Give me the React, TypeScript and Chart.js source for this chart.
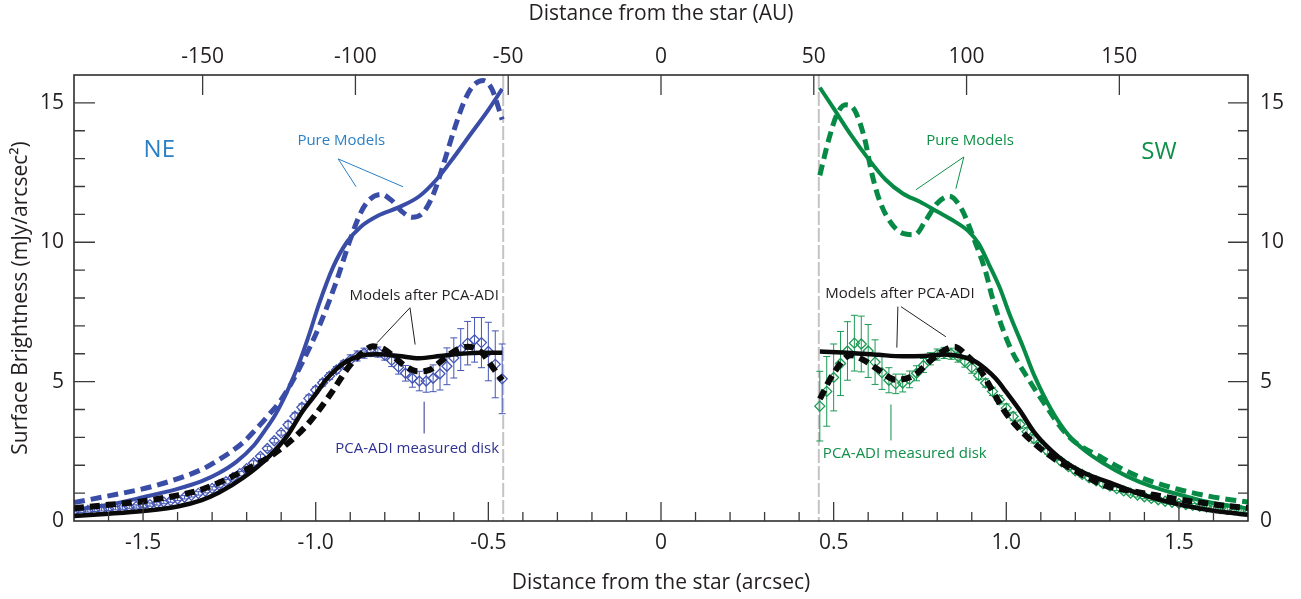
import React, { useEffect, useRef } from "react";
import { Chart, registerables } from "chart.js";

Chart.register(...registerables);

// ---------- axes ----------
const AU_PER_ARCSEC = 113;
const X_MIN = -1.7;
const X_MAX = 1.7;
const Y_MIN = 0;
const Y_MAX = 16;
const ARCSEC_TICKS = [-1.5, -1.0, -0.5, 0, 0.5, 1.0, 1.5];
const ARCSEC_LABELS = ["-1.5", "-1.0", "-0.5", "0", "0.5", "1.0", "1.5"];
const AU_TICKS = [-150, -100, -50, 0, 50, 100, 150];
const AU_LABELS = ["-150", "-100", "-50", "0", "50", "100", "150"];
const SB_TICKS = [0, 5, 10, 15];
const SB_LABELS = ["0", "5", "10", "15"];
const MASK_EDGES = [-0.457, 0.457];

// ---------- NE side ----------
const NE_PURE_SOLID_X = [-1.70, -1.60, -1.50, -1.40, -1.33, -1.28, -1.23, -1.18, -1.15, -1.12, -1.10, -1.08, -1.05, -1.02, -0.99, -0.95, -0.91, -0.87, -0.82, -0.76, -0.70, -0.65, -0.60, -0.55, -0.50, -0.46];
const NE_PURE_SOLID_Y = [0.40, 0.58, 0.85, 1.15, 1.43, 1.72, 2.12, 2.70, 3.20, 3.75, 4.20, 4.72, 5.60, 6.65, 7.80, 9.10, 10.0, 10.55, 10.95, 11.25, 11.65, 12.25, 13.05, 13.9, 14.75, 15.5];
const NE_PURE_DASH_X = [-1.70, -1.60, -1.47, -1.33, -1.28, -1.21, -1.18, -1.14, -1.10, -1.07, -1.04, -0.99, -0.94, -0.90, -0.87, -0.845, -0.81, -0.78, -0.75, -0.72, -0.69, -0.66, -0.63, -0.60, -0.57, -0.545, -0.515, -0.49, -0.46];
const NE_PURE_DASH_Y = [0.66, 0.90, 1.25, 1.85, 2.2, 2.82, 3.2, 3.75, 4.35, 4.95, 5.65, 6.98, 8.6, 10.1, 11.05, 11.52, 11.72, 11.5, 11.1, 10.9, 11.05, 11.7, 12.8, 14.0, 15.05, 15.6, 15.8, 15.5, 14.4];
const NE_PCA_SOLID_X = [-1.70, -1.60, -1.50, -1.40, -1.33, -1.28, -1.21, -1.135, -1.08, -1.04, -1.00, -0.97, -0.94, -0.91, -0.87, -0.82, -0.76, -0.70, -0.64, -0.58, -0.52, -0.46];
const NE_PCA_SOLID_Y = [0.18, 0.26, 0.36, 0.52, 0.75, 1.02, 1.55, 2.32, 3.1, 3.9, 4.55, 5.07, 5.45, 5.73, 5.93, 5.98, 5.92, 5.84, 5.92, 6.0, 6.04, 6.04];
const NE_PCA_DASH_X = [-1.70, -1.60, -1.50, -1.40, -1.33, -1.22, -1.12, -1.03, -0.96, -0.90, -0.865, -0.835, -0.80, -0.77, -0.74, -0.705, -0.67, -0.64, -0.60, -0.56, -0.52, -0.49, -0.46];
const NE_PCA_DASH_Y = [0.46, 0.58, 0.71, 0.92, 1.13, 1.73, 2.42, 3.38, 4.5, 5.6, 6.03, 6.27, 6.15, 5.85, 5.55, 5.37, 5.42, 5.7, 6.08, 6.25, 6.05, 5.55, 5.05];
const NE_DATA_X = [-1.70, -1.68, -1.66, -1.64, -1.62, -1.60, -1.58, -1.56, -1.54, -1.52, -1.50, -1.48, -1.46, -1.44, -1.42, -1.40, -1.38, -1.36, -1.34, -1.32, -1.30, -1.28, -1.26, -1.24, -1.22, -1.20, -1.18, -1.16, -1.14, -1.12, -1.10, -1.08, -1.06, -1.04, -1.02, -1.00, -0.98, -0.96, -0.94, -0.92, -0.90, -0.88, -0.86, -0.84, -0.82, -0.80, -0.78, -0.76, -0.74, -0.72, -0.70, -0.68, -0.66, -0.64, -0.62, -0.60, -0.58, -0.56, -0.54, -0.52, -0.50, -0.48, -0.46];
const NE_DATA_Y = [0.34, 0.36, 0.38, 0.40, 0.42, 0.44, 0.46, 0.48, 0.50, 0.52, 0.55, 0.59, 0.63, 0.68, 0.73, 0.79, 0.85, 0.92, 0.99, 1.07, 1.17, 1.29, 1.41, 1.55, 1.70, 1.88, 2.08, 2.32, 2.60, 2.88, 3.16, 3.45, 3.76, 4.08, 4.40, 4.70, 4.96, 5.20, 5.42, 5.62, 5.78, 5.92, 6.02, 6.08, 6.06, 5.95, 5.76, 5.52, 5.30, 5.12, 5.02, 5.02, 5.12, 5.28, 5.55, 5.85, 6.15, 6.38, 6.50, 6.40, 6.08, 5.62, 5.10];
const NE_DATA_ERR = [0.06, 0.06, 0.06, 0.06, 0.06, 0.06, 0.06, 0.06, 0.06, 0.06, 0.06, 0.06, 0.06, 0.06, 0.06, 0.06, 0.06, 0.06, 0.06, 0.06, 0.06, 0.08, 0.08, 0.08, 0.08, 0.08, 0.08, 0.08, 0.08, 0.08, 0.08, 0.12, 0.12, 0.12, 0.12, 0.12, 0.12, 0.12, 0.12, 0.12, 0.18, 0.18, 0.18, 0.18, 0.18, 0.18, 0.22, 0.25, 0.28, 0.32, 0.35, 0.40, 0.48, 0.58, 0.66, 0.72, 0.75, 0.78, 0.80, 0.90, 1.05, 1.20, 1.25];

// ---------- SW side ----------
const SW_PURE_SOLID_X = [0.46, 0.50, 0.55, 0.60, 0.65, 0.70, 0.75, 0.80, 0.85, 0.89, 0.92, 0.95, 0.98, 1.01, 1.05, 1.08, 1.13, 1.18, 1.23, 1.28, 1.35, 1.42, 1.50, 1.57, 1.63, 1.70];
const SW_PURE_SOLID_Y = [15.55, 14.8, 13.85, 13.0, 12.25, 11.75, 11.45, 11.1, 10.75, 10.4, 9.95, 9.2, 8.4, 7.4, 6.2, 5.25, 4.0, 3.08, 2.5, 2.08, 1.6, 1.24, 0.95, 0.72, 0.58, 0.45];
const SW_PURE_DASH_X = [0.46, 0.485, 0.51, 0.535, 0.56, 0.59, 0.61, 0.63, 0.66, 0.70, 0.735, 0.765, 0.80, 0.835, 0.87, 0.91, 0.94, 0.96, 1.01, 1.065, 1.10, 1.18, 1.28, 1.35, 1.42, 1.50, 1.57, 1.63, 1.70];
const SW_PURE_DASH_Y = [12.4, 13.65, 14.6, 14.93, 14.75, 13.7, 12.5, 11.6, 10.8, 10.32, 10.27, 10.75, 11.4, 11.65, 11.2, 10.0, 8.95, 8.0, 6.26, 5.07, 4.4, 3.04, 2.25, 1.78, 1.42, 1.13, 0.93, 0.8, 0.68];
const SW_PCA_SOLID_X = [0.46, 0.55, 0.63, 0.70, 0.76, 0.82, 0.87, 0.91, 0.94, 0.97, 1.00, 1.04, 1.08, 1.12, 1.17, 1.23, 1.30, 1.38, 1.47, 1.56, 1.63, 1.70];
const SW_PCA_SOLID_Y = [6.08, 6.03, 5.96, 5.91, 5.92, 5.97, 5.9, 5.72, 5.45, 5.1, 4.62, 3.95, 3.2, 2.65, 2.12, 1.7, 1.38, 1.0, 0.68, 0.45, 0.32, 0.22];
const SW_PCA_DASH_X = [0.46, 0.50, 0.55, 0.59, 0.63, 0.68, 0.73, 0.78, 0.82, 0.85, 0.88, 0.92, 0.97, 1.00, 1.05, 1.12, 1.20, 1.28, 1.36, 1.43, 1.50, 1.57, 1.63, 1.70];
const SW_PCA_DASH_Y = [4.38, 5.3, 5.95, 5.75, 5.42, 5.07, 5.2, 5.75, 6.12, 6.25, 6.0, 5.5, 4.45, 3.85, 3.15, 2.4, 1.8, 1.3, 1.08, 0.93, 0.77, 0.65, 0.55, 0.47];
const SW_DATA_X = [0.46, 0.48, 0.50, 0.52, 0.54, 0.56, 0.58, 0.60, 0.62, 0.64, 0.66, 0.68, 0.70, 0.72, 0.74, 0.76, 0.78, 0.80, 0.82, 0.84, 0.86, 0.88, 0.90, 0.92, 0.94, 0.96, 0.98, 1.00, 1.02, 1.04, 1.06, 1.08, 1.10, 1.12, 1.14, 1.16, 1.18, 1.20, 1.22, 1.24, 1.26, 1.28, 1.30, 1.32, 1.34, 1.36, 1.38, 1.40, 1.42, 1.44, 1.46, 1.48, 1.50, 1.52, 1.54, 1.56, 1.58, 1.60, 1.62, 1.64, 1.66, 1.68, 1.70];
const SW_DATA_Y = [4.12, 4.65, 5.15, 5.65, 6.1, 6.38, 6.35, 6.1, 5.7, 5.32, 5.05, 4.92, 4.95, 5.08, 5.3, 5.58, 5.82, 5.97, 6.03, 6.0, 5.9, 5.72, 5.5, 5.22, 4.95, 4.65, 4.35, 4.05, 3.75, 3.47, 3.2, 2.95, 2.72, 2.5, 2.3, 2.12, 1.95, 1.8, 1.67, 1.55, 1.44, 1.34, 1.25, 1.16, 1.08, 1.0, 0.93, 0.87, 0.81, 0.76, 0.71, 0.67, 0.63, 0.59, 0.56, 0.53, 0.50, 0.47, 0.45, 0.42, 0.40, 0.38, 0.36];
const SW_DATA_ERR = [1.25, 1.25, 1.2, 1.15, 1.05, 1.0, 1.0, 0.95, 0.8, 0.6, 0.45, 0.35, 0.32, 0.3, 0.27, 0.25, 0.22, 0.2, 0.2, 0.2, 0.2, 0.2, 0.2, 0.15, 0.15, 0.15, 0.15, 0.15, 0.15, 0.15, 0.15, 0.15, 0.15, 0.1, 0.1, 0.1, 0.1, 0.1, 0.1, 0.1, 0.1, 0.1, 0.1, 0.07, 0.07, 0.07, 0.07, 0.07, 0.07, 0.07, 0.07, 0.07, 0.07, 0.07, 0.07, 0.07, 0.07, 0.07, 0.07, 0.07, 0.07, 0.07, 0.07];

// ---------- styles ----------
const FONT = "'Open Sans', 'DejaVu Sans', sans-serif";
const INK = "#231f20";
const BLUE = "#3a4da6";
const BLUE_DATA = "#4456b4";
const BLUE_TEXT = "#2a7fc5";
const NAVY_TEXT = "#2e3192";
const GREEN = "#078a45";
const GREEN_DATA = "#1c9a54";
const GREEN_TEXT = "#0f8f48";
const BLACK = "#0a0a0a";

// annotations anchored in data coordinates
const NOTES = [
  { text: "NE", x: -1.453, y: 13.31, size: 24, color: BLUE_TEXT },
  { text: "Pure Models", x: -0.926, y: 13.64, size: 15, color: BLUE_TEXT },
  { text: "Models after PCA-ADI", x: -0.686, y: 8.08, size: 15, color: INK },
  { text: "PCA-ADI measured disk", x: -0.706, y: 2.6, size: 15, color: NAVY_TEXT },
  { text: "SW", x: 1.442, y: 13.24, size: 24, color: GREEN_TEXT },
  { text: "Pure Models", x: 0.895, y: 13.64, size: 15, color: GREEN_TEXT },
  { text: "Models after PCA-ADI", x: 0.692, y: 8.15, size: 15, color: INK },
  { text: "PCA-ADI measured disk", x: 0.706, y: 2.42, size: 15, color: GREEN_TEXT },
];
const LEADERS = [
  { x1: -0.935, y1: 12.99, x2: -0.883, y2: 11.99, color: BLUE_TEXT },
  { x1: -0.935, y1: 12.99, x2: -0.747, y2: 11.99, color: BLUE_TEXT },
  { x1: -0.727, y1: 7.65, x2: -0.822, y2: 6.4, color: INK },
  { x1: -0.727, y1: 7.65, x2: -0.712, y2: 6.33, color: INK },
  { x1: -0.686, y1: 4.28, x2: -0.686, y2: 3.14, color: NAVY_TEXT },
  { x1: 0.877, y1: 13.06, x2: 0.738, y2: 11.88, color: GREEN_TEXT },
  { x1: 0.877, y1: 13.06, x2: 0.854, y2: 11.92, color: GREEN_TEXT },
  { x1: 0.686, y1: 7.69, x2: 0.683, y2: 6.22, color: INK },
  { x1: 0.695, y1: 7.69, x2: 0.825, y2: 6.61, color: INK },
  { x1: 0.666, y1: 4.18, x2: 0.666, y2: 2.89, color: GREEN_TEXT },
];

const pts = (xs: number[], ys: number[]) => xs.map((x, i) => ({ x, y: ys[i] }));

const ERROR_SETS = [
  { xs: NE_DATA_X, ys: NE_DATA_Y, err: NE_DATA_ERR, color: BLUE_DATA },
  { xs: SW_DATA_X, ys: SW_DATA_Y, err: SW_DATA_ERR, color: GREEN_DATA },
];

const maskPlugin = {
  id: "maskLines",
  beforeDatasetsDraw(chart: any) {
    const { ctx, chartArea: a, scales } = chart;
    ctx.save();
    ctx.strokeStyle = "#c4c4c4";
    ctx.lineWidth = 2;
    ctx.setLineDash([14, 3]);
    MASK_EDGES.forEach((v) => {
      const px = scales.x.getPixelForValue(v);
      ctx.beginPath();
      ctx.moveTo(px, a.top);
      ctx.lineTo(px, a.bottom);
      ctx.stroke();
    });
    ctx.restore();
  },
};

const errorPlugin = {
  id: "errorBars",
  beforeDatasetsDraw(chart: any) {
    const { ctx, chartArea: a, scales } = chart;
    ctx.save();
    ctx.beginPath();
    ctx.rect(a.left, a.top, a.right - a.left, a.bottom - a.top);
    ctx.clip();
    ctx.lineWidth = 1;
    ERROR_SETS.forEach((s) => {
      ctx.strokeStyle = s.color;
      ctx.beginPath();
      s.xs.forEach((x, i) => {
        const px = scales.x.getPixelForValue(x);
        const top = scales.y.getPixelForValue(s.ys[i] + s.err[i]);
        const bot = scales.y.getPixelForValue(s.ys[i] - s.err[i]);
        ctx.moveTo(px, top);
        ctx.lineTo(px, bot);
        ctx.moveTo(px - 3.5, top);
        ctx.lineTo(px + 3.5, top);
        ctx.moveTo(px - 3.5, bot);
        ctx.lineTo(px + 3.5, bot);
      });
      ctx.stroke();
    });
    ctx.restore();
  },
};

const framePlugin = {
  id: "frame",
  afterDatasetsDraw(chart: any) {
    const { ctx, chartArea: a, scales } = chart;
    const xs = scales.x;
    const ys = scales.y;
    ctx.save();
    ctx.strokeStyle = INK;
    ctx.lineWidth = 1.5;
    ctx.strokeRect(a.left, a.top, a.right - a.left, a.bottom - a.top);
    ctx.strokeStyle = "#3a3a3a";
    ctx.lineWidth = 1.3;
    ctx.beginPath();
    for (let k = -16; k <= 16; k++) {
      const px = xs.getPixelForValue(k / 10);
      const len = k % 5 === 0 ? 19 : 9;
      ctx.moveTo(px, a.bottom);
      ctx.lineTo(px, a.bottom - len);
    }
    AU_TICKS.forEach((au) => {
      const px = xs.getPixelForValue(au / AU_PER_ARCSEC);
      ctx.moveTo(px, a.top);
      ctx.lineTo(px, a.top + 20);
    });
    for (let v = 1; v <= 15; v++) {
      const py = ys.getPixelForValue(v);
      const major = v % 5 === 0;
      ctx.moveTo(a.left, py);
      ctx.lineTo(a.left + (major ? 21 : 11), py);
      ctx.moveTo(a.right, py);
      ctx.lineTo(a.right - (major ? 20 : 10), py);
    }
    ctx.stroke();
    ctx.restore();
  },
};

const notesPlugin = {
  id: "notes",
  afterDatasetsDraw(chart: any) {
    const { ctx, scales } = chart;
    const X = (v: number) => scales.x.getPixelForValue(v);
    const Y = (v: number) => scales.y.getPixelForValue(v);
    ctx.save();
    ctx.lineWidth = 1;
    LEADERS.forEach((l) => {
      ctx.strokeStyle = l.color;
      ctx.beginPath();
      ctx.moveTo(X(l.x1), Y(l.y1));
      ctx.lineTo(X(l.x2), Y(l.y2));
      ctx.stroke();
    });
    ctx.textAlign = "center";
    ctx.textBaseline = "middle";
    NOTES.forEach((n) => {
      ctx.font = `${n.size}px ${FONT}`;
      ctx.fillStyle = n.color;
      ctx.fillText(n.text, X(n.x), Y(n.y));
    });
    ctx.restore();
  },
};

const lineDs = (label: string, xs: number[], ys: number[], color: string, width: number, dash: number[], order: number) => ({
  label,
  data: pts(xs, ys),
  borderColor: color,
  borderWidth: width,
  borderDash: dash,
  pointRadius: 0,
  fill: false,
  cubicInterpolationMode: "monotone" as const,
  order,
});

const dataDs = (label: string, xs: number[], ys: number[], color: string) => ({
  label,
  data: pts(xs, ys),
  showLine: false,
  pointStyle: "rectRot" as const,
  pointRadius: 5,
  pointBorderWidth: 1.3,
  pointBorderColor: color,
  pointBackgroundColor: "rgba(255,255,255,0)",
  borderColor: color,
  order: 3,
});

const tickFont = { family: FONT, size: 21 };
const titleFont = { family: FONT, size: 21 };

export default function App() {
  const ref = useRef<HTMLCanvasElement>(null);

  useEffect(() => {
    const canvas = ref.current;
    if (!canvas) return;
    const chart = new Chart(canvas, {
      type: "line",
      data: {
        datasets: [
          lineDs("NE model after PCA-ADI", NE_PCA_SOLID_X, NE_PCA_SOLID_Y, BLACK, 4.5, [], 0),
          lineDs("NE model after PCA-ADI (dashed)", NE_PCA_DASH_X, NE_PCA_DASH_Y, BLACK, 6, [10, 6], 0),
          lineDs("SW model after PCA-ADI", SW_PCA_SOLID_X, SW_PCA_SOLID_Y, BLACK, 4.5, [], 0),
          lineDs("SW model after PCA-ADI (dashed)", SW_PCA_DASH_X, SW_PCA_DASH_Y, BLACK, 6, [10, 6], 0),
          lineDs("NE pure model", NE_PURE_SOLID_X, NE_PURE_SOLID_Y, BLUE, 4, [], 1),
          lineDs("NE pure model (dashed)", NE_PURE_DASH_X, NE_PURE_DASH_Y, BLUE, 5, [11, 6], 1),
          lineDs("SW pure model", SW_PURE_SOLID_X, SW_PURE_SOLID_Y, GREEN, 4, [], 1),
          lineDs("SW pure model (dashed)", SW_PURE_DASH_X, SW_PURE_DASH_Y, GREEN, 5, [11, 6], 1),
          dataDs("NE PCA-ADI measured disk", NE_DATA_X, NE_DATA_Y, BLUE_DATA),
          dataDs("SW PCA-ADI measured disk", SW_DATA_X, SW_DATA_Y, GREEN_DATA),
        ] as any,
      },
      options: {
        responsive: false,
        animation: false,
        events: [],
        layout: { padding: 0 },
        plugins: { legend: { display: false }, tooltip: { enabled: false } },
        scales: {
          x: {
            type: "linear",
            position: "bottom",
            min: X_MIN,
            max: X_MAX,
            grid: { display: false, drawTicks: false },
            border: { display: false },
            afterBuildTicks: (s: any) => {
              s.ticks = ARCSEC_TICKS.map((v) => ({ value: v }));
            },
            afterFit: (s: any) => {
              s.height = 78;
            },
            ticks: {
              color: INK,
              font: tickFont,
              padding: 9,
              maxRotation: 0,
              autoSkip: false,
              callback: (_v: any, i: number) => ARCSEC_LABELS[i],
            },
            title: {
              display: true,
              text: "Distance from the star (arcsec)",
              color: INK,
              font: titleFont,
              padding: { top: 0, bottom: 3 },
            },
          },
          x2: {
            type: "linear",
            position: "top",
            min: X_MIN,
            max: X_MAX,
            grid: { display: false, drawTicks: false },
            border: { display: false },
            afterBuildTicks: (s: any) => {
              s.ticks = AU_TICKS.map((v) => ({ value: v / AU_PER_ARCSEC }));
            },
            afterFit: (s: any) => {
              s.height = 75;
            },
            ticks: {
              color: INK,
              font: tickFont,
              padding: 5,
              maxRotation: 0,
              autoSkip: false,
              callback: (_v: any, i: number) => AU_LABELS[i],
            },
            title: {
              display: true,
              text: "Distance from the star (AU)",
              color: INK,
              font: titleFont,
              padding: { top: 1, bottom: 0 },
            },
          },
          y: {
            type: "linear",
            position: "left",
            min: Y_MIN,
            max: Y_MAX,
            grid: { display: false, drawTicks: false },
            border: { display: false },
            afterBuildTicks: (s: any) => {
              s.ticks = SB_TICKS.map((v) => ({ value: v }));
            },
            afterFit: (s: any) => {
              s.width = 74;
            },
            ticks: {
              color: INK,
              font: tickFont,
              padding: 10,
              autoSkip: false,
              callback: (_v: any, i: number) => SB_LABELS[i],
            },
            title: {
              display: true,
              text: "Surface Brightness (mJy/arcsec²)",
              color: INK,
              font: titleFont,
              padding: { top: 8, bottom: 0 },
            },
          },
          y2: {
            type: "linear",
            position: "right",
            min: Y_MIN,
            max: Y_MAX,
            grid: { display: false, drawTicks: false },
            border: { display: false },
            afterBuildTicks: (s: any) => {
              s.ticks = SB_TICKS.map((v) => ({ value: v }));
            },
            afterFit: (s: any) => {
              s.width = 53;
            },
            ticks: {
              color: INK,
              font: tickFont,
              padding: 12,
              autoSkip: false,
              callback: (_v: any, i: number) => SB_LABELS[i],
            },
          },
        },
      } as any,
      plugins: [maskPlugin, errorPlugin, framePlugin, notesPlugin],
    });
    return () => chart.destroy();
  }, []);

  return (
    <div style={{ position: "fixed", left: 0, top: 0, width: 1301, height: 599, background: "#ffffff" }}>
      <canvas ref={ref} width={1301} height={599} style={{ display: "block", width: 1301, height: 599 }} />
    </div>
  );
}
